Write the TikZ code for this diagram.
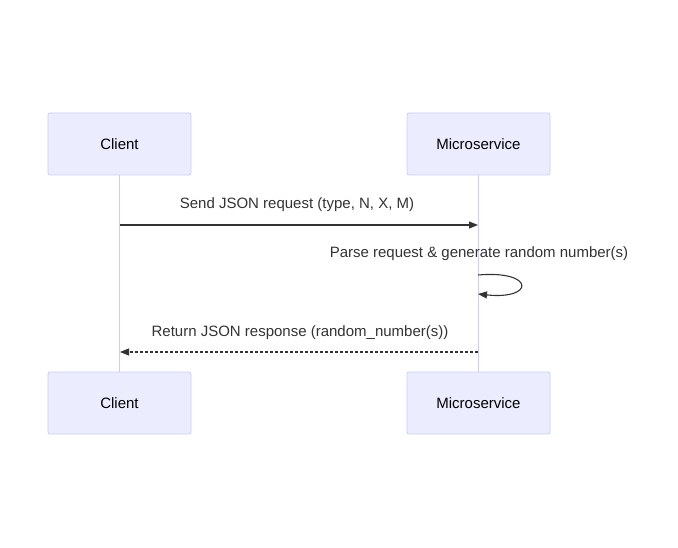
\documentclass[tikz,border=0pt]{standalone}
\usepackage{fontspec}
\setmainfont{Liberation Sans}
\usetikzlibrary{arrows.meta}
\definecolor{actfill}{HTML}{ECECFF}
\definecolor{actline}{HTML}{CCCCFF}
\definecolor{txt}{HTML}{333333}
\tikzset{
  actor/.style={draw=actline, fill=actfill, rounded corners=2pt, minimum width=143pt, minimum height=62pt, inner sep=0pt, font=\fontsize{15}{18}\selectfont, text=black, line width=0.8pt},
  lifeline/.style={draw=actline, line width=1.3pt},
  msg/.style={draw=txt, line width=1.1pt, -{Triangle[length=9pt,width=7pt]}},
  msgtext/.style={font=\fontsize{15}{18}\selectfont, text=txt, inner sep=0pt}
}
\begin{document}
\begin{tikzpicture}[x=1pt,y=-1pt]
\useasboundingbox (0,0) rectangle (678,548);
\node[actor] (c1) at (119.5,144) {Client};
\node[actor] (m1) at (478.5,144) {Microservice};
\node[actor] (c2) at (119.5,403) {Client};
\node[actor] (m2) at (478.5,403) {Microservice};
\draw[lifeline] (c1.south) -- (c2.north);
\draw[lifeline] (m1.south) -- (m2.north);
\coordinate (a1) at (120,225);
\coordinate (b1) at (478,225);
\draw[msg] (a1) -- (b1);
\node[msgtext] (t1) at (297,205) {Send JSON request (type, N, X, M)};
\node[msgtext] (t2) at (479,254) {Parse request \& generate random number(s)};
\coordinate (s1) at (478,275);
\coordinate (s2) at (478,294);
\draw[msg] (s1) .. controls (535,270) and (535,300) .. (s2);
\node[msgtext] (t3) at (300,333) {Return JSON response (random\_number(s))};
\coordinate (a3) at (478,352);
\coordinate (b3) at (120,352);
\draw[msg, dash pattern=on 3pt off 2pt] (a3) -- (b3);
\end{tikzpicture}
\end{document}
